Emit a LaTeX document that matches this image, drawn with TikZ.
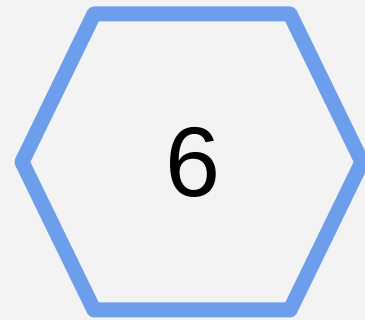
\documentclass[tikz,border=0pt]{standalone}
\usepackage{fontspec}
\setmainfont{Liberation Sans}
\usetikzlibrary{positioning}
\definecolor{hexblue}{HTML}{6D9EEB}
\definecolor{bggray}{HTML}{F3F3F3}
\begin{document}
\begin{tikzpicture}[
        x=1pt, y=-1pt,
        hexline/.style={draw=hexblue, line width=15pt, line join=round},
        numlabel/.style={font=\fontsize{99}{99}\selectfont, text=black, inner sep=0pt}
    ]
    % Background
    \fill[bggray] (0,0) rectangle (365,320);
    \useasboundingbox (0,0) rectangle (365,320);

    % Hexagon outline
    \draw[hexline] (22,162) -- (94,14) -- (290,14) -- (362,162) -- (290,310) -- (94,310) -- cycle;

    % Label
    \node[numlabel] (six) at (193,162) {6};

\end{tikzpicture}
\end{document}
